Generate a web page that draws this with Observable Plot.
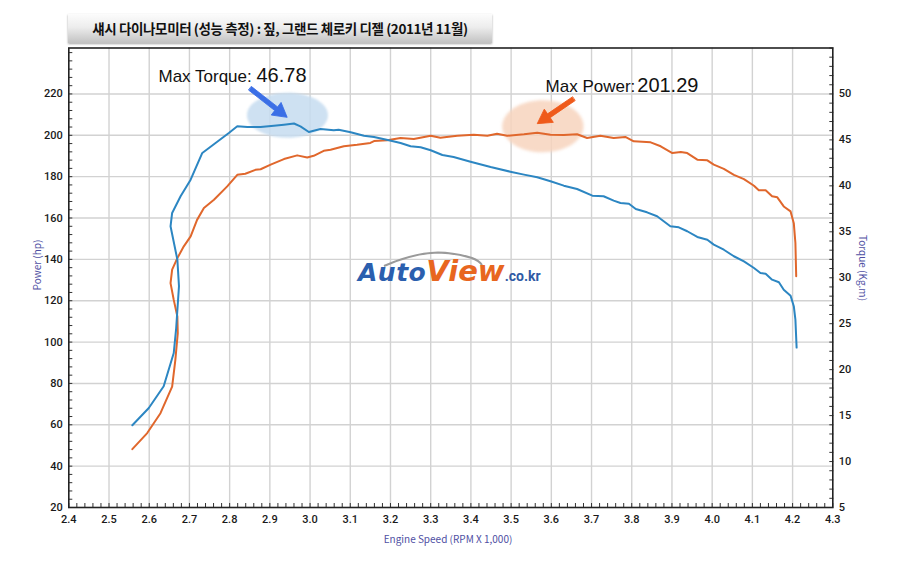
<!DOCTYPE html>
<html>
<head>
<meta charset="utf-8">
<script src="https://cdn.jsdelivr.net/npm/d3@7"></script>
<script src="https://cdn.jsdelivr.net/npm/@observablehq/plot@0.6"></script>
<style>
  body { margin: 0; background: #fff; }
  #wrap { position: relative; width: 900px; height: 563px; overflow: hidden; background: #fff; }
  #title { position: absolute; left: 68px; top: 14px; width: 424px; height: 29px;
    background: linear-gradient(#fcfcfc, #ededed 45%, #c2c2c2);
    box-shadow: 0 1px 2px rgba(0,0,0,0.35);
    font-family: "Noto Sans CJK KR", sans-serif; font-weight: 700; font-size: 13.5px; letter-spacing: -0.4px;
    line-height: 29px; text-align: center; color: #111; }
  .axlab { position: absolute; font-family: "Noto Sans CJK KR", sans-serif; font-size: 10px; color: #4f4fa3; white-space: nowrap; }
  #logo { position: absolute; left: 358px; top: 254px; white-space: nowrap; font-family: "DejaVu Sans", sans-serif; font-style: italic; font-weight: 700; }
</style>
</head>
<body>
<div id="wrap"></div>
<script>
// ---------------- data ----------------
const xTicks = [2.4, 2.5, 2.6, 2.7, 2.8, 2.9, 3.0, 3.1, 3.2, 3.3, 3.4, 3.5, 3.6, 3.7, 3.8, 3.9, 4.0, 4.1, 4.2, 4.3];
const powerTicks = [20, 40, 60, 80, 100, 120, 140, 160, 180, 200, 220];
const torqueTicks = [5, 10, 15, 20, 25, 30, 35, 40, 45, 50];

const rpmTorque = [2.558, 2.599, 2.636, 2.661, 2.667, 2.674, 2.670, 2.653, 2.657, 2.678, 2.703, 2.732, 2.765, 2.798, 2.819,
  2.844, 2.877, 2.910, 2.935, 2.960, 2.976, 2.997, 3.026, 3.059, 3.071, 3.101, 3.134, 3.159, 3.196, 3.225, 3.250, 3.275,
  3.300, 3.329, 3.357, 3.399, 3.449, 3.498, 3.532, 3.565, 3.598, 3.631, 3.664, 3.702, 3.730, 3.755, 3.772, 3.793, 3.810,
  3.838, 3.863, 3.896, 3.917, 3.938, 3.963, 3.988, 4.004, 4.029, 4.054, 4.079, 4.104, 4.120, 4.133, 4.149, 4.166, 4.178,
  4.195, 4.203, 4.207, 4.210];
const torque = [13.95, 15.83, 18.19, 21.81, 24.5, 29.07, 31.97, 35.60, 37.05, 38.86, 40.67, 43.58, 44.66, 45.75, 46.48,
  46.41, 46.41, 46.55, 46.66, 46.78, 46.48, 45.86, 46.19, 46.05, 46.11, 45.83, 45.46, 45.32, 44.96, 44.66, 44.31, 44.20,
  43.87, 43.36, 43.14, 42.63, 42.05, 41.54, 41.22, 40.93, 40.50, 40.02, 39.66, 38.93, 38.87, 38.39, 38.14, 38.06, 37.48,
  37.12, 36.69, 35.60, 35.49, 35.06, 34.44, 34.14, 33.60, 33.05, 32.34, 31.79, 31.06, 30.52, 30.44, 29.79, 29.51, 28.70,
  28.05, 26.90, 25.44, 22.40];

const rpmPower = [2.558, 2.595, 2.628, 2.657, 2.665, 2.671, 2.670, 2.661, 2.653, 2.657, 2.670, 2.686, 2.703, 2.719, 2.736,
  2.761, 2.794, 2.819, 2.839, 2.864, 2.877, 2.902, 2.935, 2.968, 2.993, 3.009, 3.034, 3.051, 3.084, 3.117, 3.150, 3.159,
  3.192, 3.225, 3.258, 3.300, 3.324, 3.366, 3.407, 3.441, 3.465, 3.490, 3.532, 3.565, 3.598, 3.631, 3.664, 3.689, 3.722,
  3.755, 3.784, 3.805, 3.847, 3.872, 3.901, 3.922, 3.938, 3.963, 3.988, 4.004, 4.029, 4.054, 4.079, 4.104, 4.116, 4.133,
  4.149, 4.162, 4.178, 4.195, 4.203, 4.207, 4.209];
const power = [48.2, 56.0, 65.6, 78.5, 91.4, 104.3, 112.4, 120.4, 128.5, 135.0, 140.6, 146.3, 151.1, 159.1, 164.8,
  168.8, 175.3, 180.9, 181.4, 183.3, 183.6, 185.8, 188.5, 190.3, 189.3, 190.1, 192.5, 193.0, 194.7, 195.4, 196.3, 197.2,
  197.6, 198.7, 198.2, 199.8, 198.8, 199.8, 200.3, 199.8, 200.8, 199.8, 200.5, 201.29, 200.3, 200.1, 200.5, 198.7, 199.8,
  198.7, 199.2, 197.1, 196.6, 194.7, 191.4, 191.9, 191.4, 188.2, 187.9, 185.8, 183.8, 180.9, 178.8, 175.6, 173.4, 173.4,
  170.5, 170.0, 165.6, 163.2, 157.5, 147.9, 131.8];

const titleText = "섀시 다이나모미터 (성능 측정) :  짚, 그랜드 체로키 디젤 (2011년 11월)";
const xLabel = "Engine Speed (RPM X 1,000)";
const yLeftLabel = "Power (hp)";
const yRightLabel = "Torque (Kg.m)";

// ---------------- helpers ----------------
// right axis (Kg.m 5..55) shares the frame with left axis (hp 20..242.2)
const toP = t => 20 + (t - 5) * 200 / 45;
const fromP = p => 5 + (p - 20) * 45 / 200;

const torqueRows = rpmTorque.map((r, i) => ({rpm: r, v: toP(torque[i]), t: torque[i]}));
const powerRows = rpmPower.map((r, i) => ({rpm: r, v: power[i]}));
const peakT = torqueRows[d3.maxIndex(torque)];
const peakP = powerRows[d3.maxIndex(power)];

const minorX = d3.range(240, 431, 2).map(v => v / 100);
const minorP = d3.range(20, 243, 4);
const minorT = d3.range(5, 56, 1).map(toP);

const ellipse = (rx, ry) => ({
  draw(ctx) {
    const k = 0.5523;
    ctx.moveTo(rx, 0);
    ctx.bezierCurveTo(rx, ry * k, rx * k, ry, 0, ry);
    ctx.bezierCurveTo(-rx * k, ry, -rx, ry * k, -rx, 0);
    ctx.bezierCurveTo(-rx, -ry * k, -rx * k, -ry, 0, -ry);
    ctx.bezierCurveTo(rx * k, -ry, rx, -ry * k, rx, 0);
    ctx.closePath();
  }
});
const fatArrow = {
  draw(ctx, l) {
    const sw = 2.3, hw = 8, hl = 14;
    ctx.moveTo(-sw, 0);
    ctx.lineTo(-sw, -(l - hl));
    ctx.lineTo(-hw, -(l - hl));
    ctx.lineTo(0, -l);
    ctx.lineTo(hw, -(l - hl));
    ctx.lineTo(sw, -(l - hl));
    ctx.lineTo(sw, 0);
    ctx.closePath();
  }
};

const tickFont = {fontFamily: "Roboto, sans-serif", fontSize: 11, fontWeight: 500, fill: "#1a1a1a"};
const annFont = {fontFamily: "'Liberation Sans', Arial, sans-serif", fill: "#111", textAnchor: "start", lineAnchor: "bottom"};

const chart = Plot.plot({
  width: 900,
  height: 563,
  marginLeft: 68.3,
  marginRight: 67.7,
  marginTop: 47.5,
  marginBottom: 56,
  x: {domain: [2.4, 4.3], label: null},
  y: {domain: [20, toP(55)], label: null},
  style: {background: "white", color: "#222", fontFamily: "Roboto, sans-serif"},
  marks: [
    Plot.gridX({ticks: xTicks.slice(1, -1), stroke: "#d2d2d2", strokeOpacity: 1, strokeWidth: 1.4}),
    Plot.gridY({ticks: powerTicks.slice(1), stroke: "#d2d2d2", strokeOpacity: 1, strokeWidth: 1.4}),
    // highlight ellipses
    Plot.dot([peakT], {x: "rpm", y: "v", dx: -6.5, dy: -8.4, symbol: ellipse(40.5, 22.5), fill: "#c6dcf0", fillOpacity: 0.85, stroke: "none", imageFilter: "blur(1.2px)"}),
    Plot.dot([peakP], {x: "rpm", y: "v", dx: 5.6, dy: -6.3, symbol: ellipse(40.7, 26), fill: "#f7d3bd", fillOpacity: 0.85, stroke: "none", imageFilter: "blur(1.5px)"}),
    // curves
    Plot.line(powerRows, {x: "rpm", y: "v", stroke: "#e0672c", strokeWidth: 2}),
    Plot.line(torqueRows, {x: "rpm", y: "v", stroke: "#2c86c2", strokeWidth: 2}),
    // axes
    Plot.axisX({ticks: xTicks, tickSize: 0, tickPadding: 8, tickFormat: d3.format(".1f"), label: null, ...tickFont}),
    Plot.axisX({ticks: minorX, tickSize: 4, dy: -4, tickFormat: () => "", label: null, stroke: "#333"}),
    Plot.axisY({ticks: powerTicks, anchor: "left", tickSize: 0, tickPadding: 6, label: null, ...tickFont}),
    Plot.axisY({ticks: minorP, anchor: "left", tickSize: 4, dx: 4, tickFormat: () => "", label: null, stroke: "#333"}),
    Plot.axisY({ticks: torqueTicks.map(toP), anchor: "right", tickSize: 0, tickPadding: 6, tickFormat: p => String(Math.round(fromP(p))), label: null, ...tickFont}),
    Plot.axisY({ticks: minorT, anchor: "right", tickSize: 4, dx: -4, tickFormat: () => "", label: null, stroke: "#333"}),
    Plot.frame({stroke: "#222", strokeWidth: 1.6}),
    // arrows
    Plot.vector([peakT], {x: "rpm", y: "v", dx: -6.8, dy: -6.2, anchor: "end", length: 47, rotate: 128, shape: fatArrow, fill: "#3b6fe6", stroke: "#3b6fe6", strokeWidth: 0.8}),
    Plot.vector([peakP], {x: "rpm", y: "v", dx: 0, dy: -9, anchor: "end", length: 44, rotate: 235.7, shape: fatArrow, fill: "#ef5a1a", stroke: "#ef5a1a", strokeWidth: 0.8}),
    // annotation texts
    Plot.text([peakT], {x: "rpm", y: "v", text: () => "Max Torque:", dx: -135.5, dy: -41.2, fontSize: 17, ...annFont}),
    Plot.text([peakT], {x: "rpm", y: "v", text: d => d.t.toFixed(2), dx: -37.5, dy: -41.2, fontSize: 20, ...annFont}),
    Plot.text([peakP], {x: "rpm", y: "v", text: () => "Max Power:", dx: 8.3, dy: -40.6, fontSize: 17, ...annFont}),
    Plot.text([peakP], {x: "rpm", y: "v", text: d => d.v.toFixed(2), dx: 100, dy: -40.6, fontSize: 20, ...annFont})
  ]
});

const wrap = document.getElementById("wrap");
wrap.appendChild(chart);

const title = document.createElement("div");
title.id = "title";
title.textContent = titleText;
wrap.appendChild(title);

function addLabel(text, cx, cy, rot) {
  const el = document.createElement("div");
  el.className = "axlab";
  el.textContent = text;
  el.style.left = cx + "px";
  el.style.top = cy + "px";
  el.style.transform = `translate(-50%,-50%) rotate(${rot}deg)`;
  wrap.appendChild(el);
}
addLabel(yLeftLabel, 36, 265, -90);
addLabel(yRightLabel, 863, 268, 90);
addLabel(xLabel, 448, 538, 0);

// watermark logo
const swoosh = document.createElementNS("http://www.w3.org/2000/svg", "svg");
swoosh.setAttribute("width", "900");
swoosh.setAttribute("height", "563");
swoosh.style.position = "absolute";
swoosh.style.left = "0";
swoosh.style.top = "0";
swoosh.innerHTML = '<path d="M384,266 C402,258 420,253 438,252.5 C450,252.5 462,255 472,258 C477,260 480,262 482,265" fill="none" stroke="#9a9a9a" stroke-width="2"/>';
wrap.appendChild(swoosh);

const logo = document.createElement("div");
logo.id = "logo";
logo.innerHTML = '<span style="font-size:25px;color:#2b5fae;letter-spacing:0.5px">Auto</span>' +
  '<span style="font-size:29px;color:#e8661f">View</span>' +
  '<span style="font-size:14px;color:#2f5aa5;font-style:normal;font-family:Roboto,sans-serif">.co.kr</span>';
wrap.appendChild(logo);
</script>
</body>
</html>
